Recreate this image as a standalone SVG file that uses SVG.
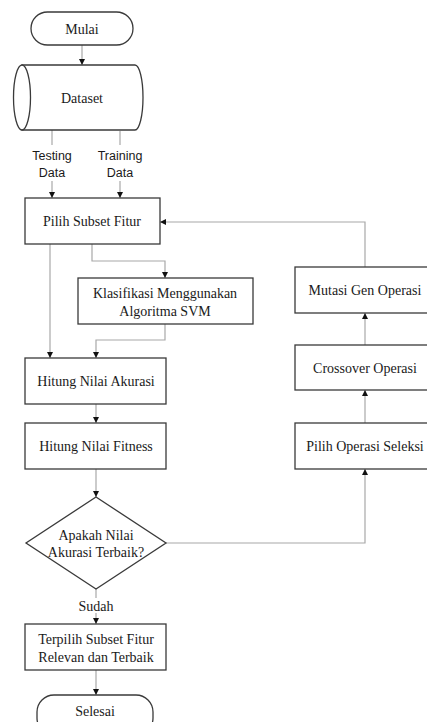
<svg xmlns="http://www.w3.org/2000/svg" width="427" height="722" viewBox="0 0 427 722">
<defs>
<style>
.box{fill:#fff;stroke:#3a3a3a;stroke-width:1.3}
.t{font-family:"Liberation Serif","Times New Roman",serif;font-size:14px;fill:#1a1a1a;text-anchor:middle}
.s{font-family:"Liberation Sans",Arial,sans-serif;font-size:12.5px;fill:#1a1a1a;text-anchor:middle}
.c{fill:none;stroke:#a8a8a8;stroke-width:1.2}
</style>
<marker id="ah" viewBox="0 0 6 6" refX="6" refY="3" markerWidth="6" markerHeight="6" markerUnits="userSpaceOnUse" orient="auto">
<path d="M0,0 L6,3 L0,6 Z" fill="#111"/>
</marker>
</defs>
<rect width="427" height="722" fill="#fff"/>
<g id="connectors">
<path class="c" d="M82,45 V65" marker-end="url(#ah)"/>
<path class="c" d="M52,130 V145"/>
<path class="c" d="M52,181 V198" marker-end="url(#ah)"/>
<path class="c" d="M120,131 V145"/>
<path class="c" d="M120,181 V198" marker-end="url(#ah)"/>
<path class="c" d="M50,244 V358" marker-end="url(#ah)"/>
<path class="c" d="M92,244 V261 H165 V278" marker-end="url(#ah)"/>
<path class="c" d="M165,324 V340 H96 V358" marker-end="url(#ah)"/>
<path class="c" d="M96,404 V423" marker-end="url(#ah)"/>
<path class="c" d="M96,469 V497" marker-end="url(#ah)"/>
<path class="c" d="M166,543 H365 V469" marker-end="url(#ah)"/>
<path class="c" d="M365,423 V390" marker-end="url(#ah)"/>
<path class="c" d="M365,345 V313" marker-end="url(#ah)"/>
<path class="c" d="M365,267 V222 H160" marker-end="url(#ah)"/>
<path class="c" d="M96,589 V598"/>
<path class="c" d="M96,613 V624" marker-end="url(#ah)"/>
<path class="c" d="M96,670 V695" marker-end="url(#ah)"/>
<text class="s" x="52" y="160">Testing</text>
<text class="s" x="52" y="177">Data</text>
<text class="s" x="120" y="160">Training</text>
<text class="s" x="120" y="177">Data</text>
<text class="t" x="96" y="611">Sudah</text>
</g>
<g id="mulai">
<rect class="box" x="31" y="12" width="102" height="33" rx="16.5"/>
<text class="t" x="82" y="34">Mulai</text>
</g>
<g id="dataset">
<path class="box" d="M22,65 L135,65 A8,32.5 0 0 1 135,130 L22,130 Z"/>
<ellipse class="box" cx="22" cy="97.5" rx="8.5" ry="32.5"/>
<text class="t" x="82" y="103">Dataset</text>
</g>
<g id="pilih-subset">
<rect class="box" x="25" y="198" width="135" height="46"/>
<text class="t" x="92" y="226">Pilih Subset Fitur</text>
</g>
<g id="klasifikasi">
<rect class="box" x="78" y="278" width="175" height="46"/>
<text class="t" x="165" y="298">Klasifikasi Menggunakan</text>
<text class="t" x="165" y="316">Algoritma SVM</text>
</g>
<g id="akurasi">
<rect class="box" x="25" y="358" width="141" height="46"/>
<text class="t" x="96" y="386">Hitung Nilai Akurasi</text>
</g>
<g id="fitness">
<rect class="box" x="25" y="423" width="141" height="46"/>
<text class="t" x="96" y="451">Hitung Nilai Fitness</text>
</g>
<g id="keputusan">
<path class="box" d="M96,497 L166,543 L96,589 L26,543 Z"/>
<text class="t" x="96" y="540">Apakah Nilai</text>
<text class="t" x="96" y="557">Akurasi Terbaik?</text>
</g>
<g id="terpilih">
<rect class="box" x="25" y="624" width="141" height="46"/>
<text class="t" x="96" y="644">Terpilih Subset Fitur</text>
<text class="t" x="96" y="662">Relevan dan Terbaik</text>
</g>
<g id="selesai">
<rect class="box" x="37" y="695" width="116" height="40" rx="17"/>
<text class="t" x="95" y="716">Selesai</text>
</g>
<g id="mutasi">
<rect class="box" x="295" y="267" width="140" height="46"/>
<text class="t" x="365" y="295">Mutasi Gen Operasi</text>
</g>
<g id="crossover">
<rect class="box" x="295" y="345" width="140" height="45"/>
<text class="t" x="365" y="373">Crossover Operasi</text>
</g>
<g id="seleksi">
<rect class="box" x="295" y="423" width="140" height="46"/>
<text class="t" x="365" y="451">Pilih Operasi Seleksi</text>
</g>
</svg>
